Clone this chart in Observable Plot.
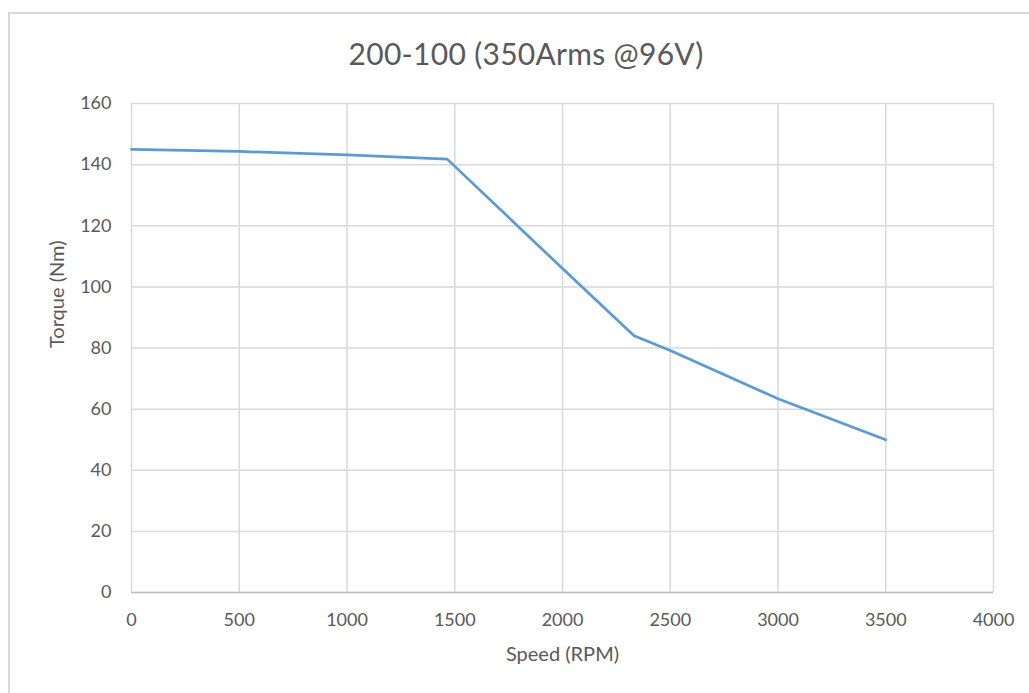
<!DOCTYPE html>
<html>
<head>
<meta charset="utf-8">
<script src="https://cdn.jsdelivr.net/npm/d3@7"></script>
<script src="https://cdn.jsdelivr.net/npm/@observablehq/plot@0.6"></script>
<style>
  html, body { margin: 0; padding: 0; background: #fff; }
  #wrap { position: relative; width: 1029px; height: 693px; overflow: hidden; font-family: Lato, "Open Sans", sans-serif; }
  #border { position: absolute; left: 8px; top: 12px; width: 1040px; height: 700px; border: 2px solid #d9d9d9; box-sizing: border-box; }
  #title { position: absolute; left: 0; width: 1052px; top: 35px; text-align: center; font-size: 30px; color: #595959; letter-spacing: 0.3px; }
  #chart { position: absolute; left: 0; top: 0; }
</style>
</head>
<body>
<div id="wrap">
  <div id="border"></div>
  <div id="chart"></div>
  <div id="title">200-100 (350Arms @96V)</div>
</div>
<script>
const speed = [0, 500, 1000, 1465, 2000, 2332, 2500, 3000, 3500];
const torque = [145, 144.3, 143.2, 141.8, 106, 84, 79.2, 63.4, 50];
const xTicks = [0, 500, 1000, 1500, 2000, 2500, 3000, 3500, 4000];
const yTicks = [0, 20, 40, 60, 80, 100, 120, 140, 160];
const xLabel = "Speed (RPM)";
const yLabel = "Torque (Nm)";

const data = speed.map((s, i) => ({speed: s, torque: torque[i]}));

const chart = Plot.plot({
  width: 1029,
  height: 693,
  marginLeft: 131,
  marginRight: 36,
  marginTop: 103,
  marginBottom: 101,
  style: {background: "transparent", fontFamily: "Lato, 'Open Sans', sans-serif", color: "#595959", fontSize: "18px"},
  x: {domain: [0, 4000], ticks: xTicks},
  y: {domain: [0, 160], ticks: yTicks},
  marks: [
    Plot.gridX(xTicks, {stroke: "#d9d9d9", strokeOpacity: 1, strokeWidth: 1.5}),
    Plot.gridY(yTicks, {stroke: "#d9d9d9", strokeOpacity: 1, strokeWidth: 1.5}),
    Plot.ruleY([0], {stroke: "#bfbfbf", strokeWidth: 1.5}),
    Plot.axisX(xTicks, {tickSize: 0, tickPadding: 21, fontSize: 18, fill: "#595959", label: null, tickFormat: d => String(d)}),
    Plot.axisY(yTicks, {tickSize: 0, tickPadding: 20, fontSize: 18, fill: "#595959", label: null, tickFormat: d => String(d)}),
    Plot.text([xLabel], {frameAnchor: "bottom", dy: 68, fontSize: 20, fill: "#595959"}),
    Plot.text([yLabel], {frameAnchor: "left", dx: -74, rotate: -90, fontSize: 20, fill: "#595959"}),
    Plot.line(data, {x: "speed", y: "torque", stroke: "#5b9bd5", strokeWidth: 2.75})
  ]
});
document.getElementById("chart").appendChild(chart);
</script>
</body>
</html>
